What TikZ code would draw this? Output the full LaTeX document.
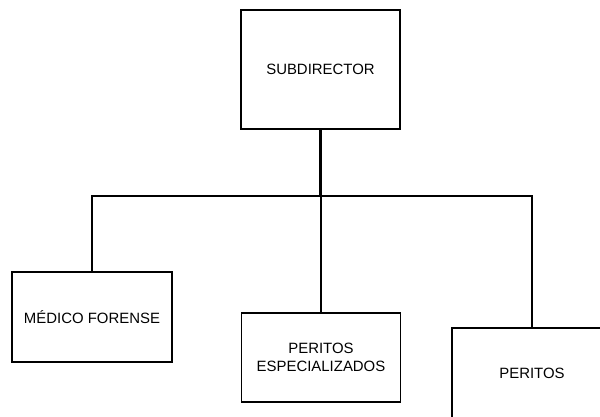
\documentclass[tikz,border=0pt]{standalone}
\usepackage{fontspec}
\setmainfont{Liberation Sans}
\begin{document}
\begin{tikzpicture}[x=0.75pt,y=-0.75pt,
  orgbox/.style={draw=black,line width=1.2pt,rectangle,align=center,inner sep=0pt,
    font=\fontsize{11.2pt}{13.5pt}\selectfont},
  link/.style={draw=black,line width=1.1pt},
  thicklink/.style={draw=black,line width=2.4pt}]
\clip (0,0) rectangle (600,417);
\useasboundingbox (0,0) rectangle (600,417);
\node[orgbox,minimum width=159*0.75pt,minimum height=119*0.75pt] (sub) at (320.5,69.5) {SUBDIRECTOR};
\node[orgbox,minimum width=160*0.75pt,minimum height=90*0.75pt] (med) at (92,317) {MÉDICO FORENSE};
\node[orgbox,minimum width=159*0.75pt,minimum height=89*0.75pt] (esp) at (321,357.5) {PERITOS\\ESPECIALIZADOS};
\node[orgbox,minimum width=160*0.75pt,minimum height=90*0.75pt] (per) at (532,373) {PERITOS};
\coordinate (bus) at (321,196);
\draw[link] (med.north) |- (bus) -| (per.north);
\draw[link] (bus) -- (esp.north);
\draw[thicklink] (sub.south) -- (sub.south |- bus);
\end{tikzpicture}
\end{document}
